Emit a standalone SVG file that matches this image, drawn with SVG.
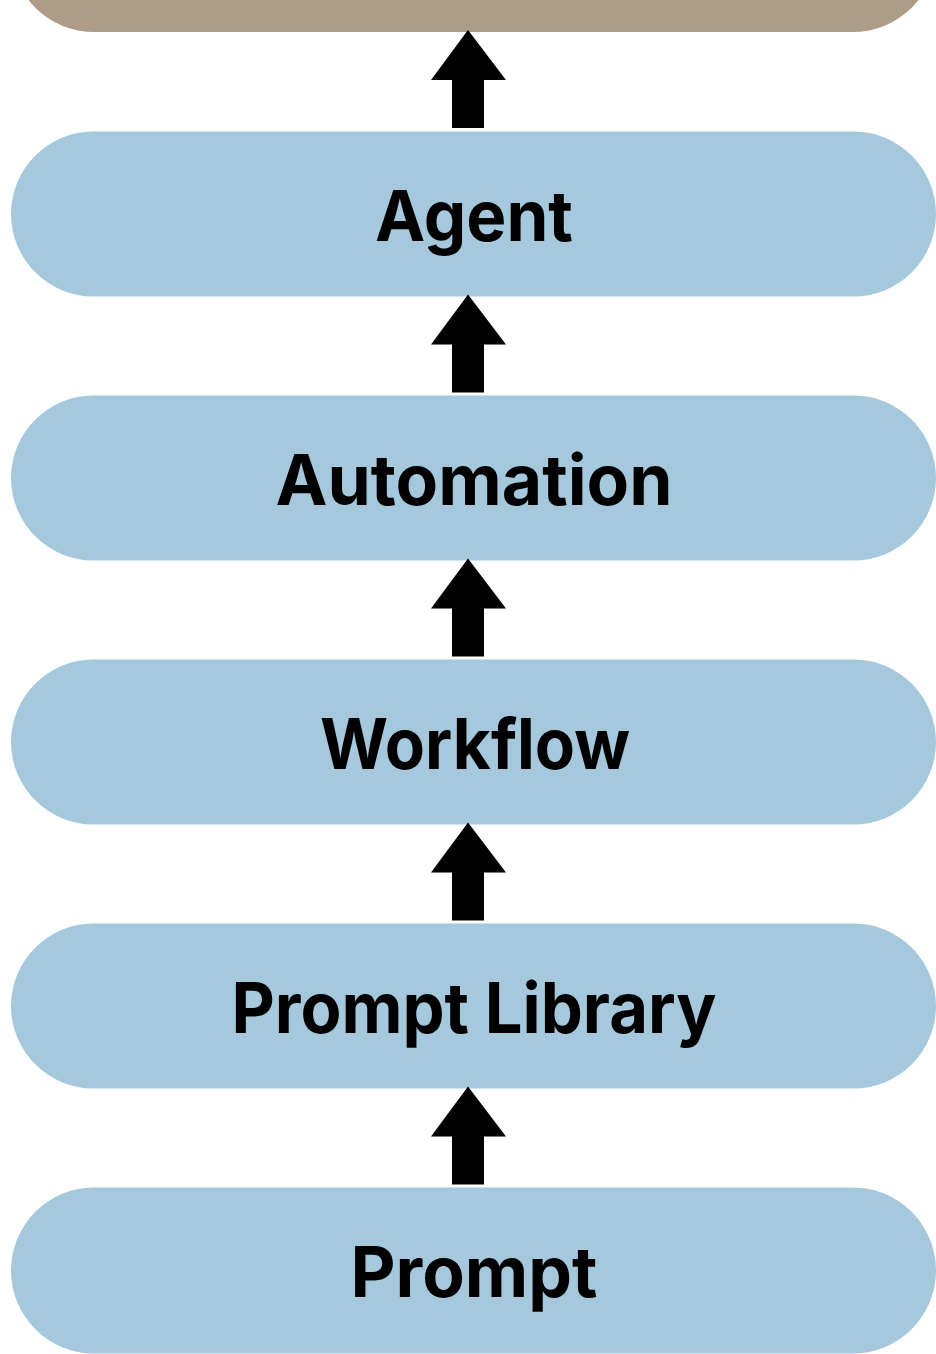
<svg xmlns="http://www.w3.org/2000/svg" xmlns:xlink="http://www.w3.org/1999/xlink" width="936" height="1354" viewBox="0 0 936 1354">
<style>
.pill{fill:#A5C8DC}
.top{fill:#AD9C87}
.lbl{font-family:Inter,"Noto Sans","Liberation Sans",sans-serif;font-weight:700;font-size:70px;fill:#000;text-anchor:middle}
</style>
<defs>
<polygon id="arr" points="468,0 506,50 484,50 484,98 452,98 452,50 431,50" fill="#000"/>
</defs>
<rect width="936" height="1354" fill="#fff"/>
<g id="top-node"><rect class="top" x="11" y="-134" width="925" height="166" rx="83"/></g>
<g id="agent"><rect class="pill" x="11" y="131.5" width="925" height="165" rx="82.5"/><text class="lbl" x="474" y="241" textLength="198" lengthAdjust="spacingAndGlyphs">Agent</text></g>
<g id="automation"><rect class="pill" x="11" y="395.5" width="925" height="165" rx="82.5"/><text class="lbl" x="474" y="505" textLength="397" lengthAdjust="spacingAndGlyphs">Automation</text></g>
<g id="workflow"><rect class="pill" x="11" y="659.5" width="925" height="165" rx="82.5"/><text class="lbl" x="475" y="769" textLength="310" lengthAdjust="spacingAndGlyphs">Workflow</text></g>
<g id="prompt-library"><rect class="pill" x="11" y="923.5" width="925" height="165" rx="82.5"/><text class="lbl" x="474" y="1033" textLength="485" lengthAdjust="spacingAndGlyphs">Prompt Library</text></g>
<g id="prompt"><rect class="pill" x="11" y="1187.5" width="925" height="166" rx="83"/><text class="lbl" x="474" y="1297" textLength="247" lengthAdjust="spacingAndGlyphs">Prompt</text></g>
<g id="connectors">
<use xlink:href="#arr" href="#arr" transform="translate(0,30)"/>
<use xlink:href="#arr" href="#arr" transform="translate(0,294.5)"/>
<use xlink:href="#arr" href="#arr" transform="translate(0,558.5)"/>
<use xlink:href="#arr" href="#arr" transform="translate(0,822.5)"/>
<use xlink:href="#arr" href="#arr" transform="translate(0,1086.5)"/>
</g>
</svg>
